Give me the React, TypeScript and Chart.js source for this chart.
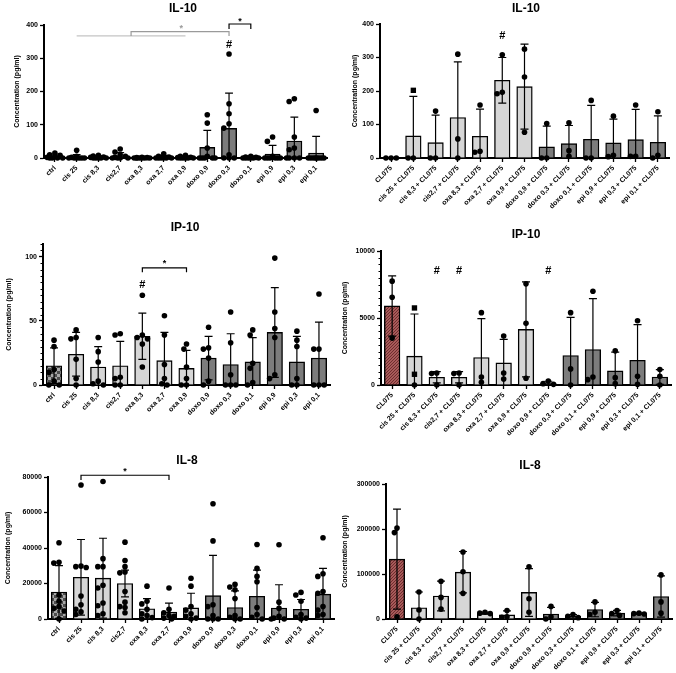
import React, { useEffect, useRef } from 'react';
import { Chart, registerables } from 'chart.js';
Chart.register(...registerables);

const FONT = '"Liberation Sans", Arial, Helvetica, sans-serif';
Chart.defaults.font.family = FONT;

// ---------- categories ----------
const LEFT_LABELS = ['ctrl', 'cis 25', 'cis 8,3', 'cis2,7', 'oxa 8,3', 'oxa 2,7', 'oxa 0,9', 'doxo 0,9', 'doxo 0,3', 'doxo 0,1', 'epi 0,9', 'epi 0,3', 'epi 0,1'];
const RIGHT_LABELS = ['CL075', 'cis 25 + CL075', 'cis 8,3 + CL075', 'cis2,7 + CL075', 'oxa 8,3 + CL075', 'oxa 2,7 + CL075', 'oxa 0,9 + CL075', 'doxo 0,9 + CL075', 'doxo 0,3 + CL075', 'doxo 0,1 + CL075', 'epi 0,9 + CL075', 'epi 0,3 + CL075', 'epi 0,1 + CL075'];
const LEFT_FILLS = ['ctrl', 'light', 'light', 'light', 'light', 'light', 'light', 'dark', 'dark', 'dark', 'dark', 'dark', 'dark'];
const RIGHT_FILLS = ['cl075', 'light', 'light', 'light', 'light', 'light', 'light', 'dark', 'dark', 'dark', 'dark', 'dark', 'dark'];

// ---------- IL-10 (left) ----------
const IL10_L_MEANS = [5, 4, 3, 6, 1, 3, 2, 32, 89, 2, 12, 51, 15];
const IL10_L_SD = [7, 6, 3, 10, 1, 5, 3, 51, 106, 3, 26, 72, 50];
const IL10_L_POINTS = [
  [15, 10, 8, 5, 2, 0, 0, 0, 0],
  [23, 5, 2, 0, 0, 0, 0, 0, 0],
  [8, 6, 3, 2, 0, 0, 0, 0, 0],
  [27, 18, 10, 5, 2, 0, 0, 0, 0],
  [2, 1, 1, 0, 0, 0, 0, 0, 0],
  [13, 5, 3, 1, 0, 0, 0, 0, 0],
  [8, 5, 2, 1, 0, 0, 0, 0, 0],
  [130, 105, 30, 5, 0, 0, 0, 0, 0],
  [313, 163, 133, 103, 90, 10, 0, 0, 0],
  [5, 3, 2, 0, 0, 0, 0, 0, 0],
  [63, 50, 5, 0, 0, 0, 0, 0, 0],
  [178, 170, 63, 30, 25, 0, 0, 0, 0],
  [143, 0, 0, 0, 0, 0, 0, 0, 0],
];
const IL10_L_TICKS = [0, 100, 200, 300, 400];

// ---------- IL-10 (right) ----------
const IL10_R_MEANS = [0, 66, 46, 121, 65, 232, 213, 33, 43, 56, 45, 55, 47];
const IL10_R_SD = [0, 118, 82, 166, 81, 68, 127, 62, 54, 101, 71, 90, 79];
const IL10_R_POINTS = [
  [0, 0, 0], [202, 0, 0], [140, 0, 0], [310, 57, 0], [158, 20, 17], [308, 196, 192], [325, 242, 77],
  [103, 0, 0], [105, 22, 5], [172, 0, 0], [125, 8, 4], [158, 5, 5], [138, 8, 0],
];
const IL10_R_SQUARES = [[1, 202]];
const IL10_R_TICKS = [0, 100, 200, 300, 400];

// ---------- IP-10 (left) ----------
const IP10_L_MEANS = [15, 24, 14, 15, 38, 19, 13, 21, 16, 18, 41, 18, 21];
const IP10_L_SD = [14, 17, 16, 19, 18, 22, 14, 17, 24, 19, 35, 20, 28];
const IP10_L_POINTS = [
  [35, 30, 12, 10, 3, 0, 0],
  [43, 37, 36, 20, 5, 0],
  [37, 26, 18, 3, 1, 0],
  [40, 39, 6, 5, 0, 0],
  [70, 39, 37, 36, 32, 14],
  [54, 39, 16, 5, 1, 0],
  [32, 28, 14, 5, 0, 0],
  [45, 29, 28, 21, 3, 0],
  [57, 33, 8, 0, 0, 0],
  [43, 39, 17, 13, 2, 0],
  [99, 57, 44, 37, 8, 5],
  [42, 35, 30, 5, 0, 0],
  [71, 28, 28, 0, 0, 0],
];
const IP10_L_TICKS = [0, 50, 100];

// ---------- IP-10 (right) ----------
const IP10_R_MEANS = [5900, 2150, 580, 580, 2050, 1650, 4150, 150, 2200, 2650, 1050, 1850, 600];
const IP10_R_SD = [2250, 3150, 420, 420, 2900, 1750, 3550, 130, 2850, 3800, 1400, 2650, 550];
const IP10_R_POINTS = [
  [7750, 6550, 3500], [5750, 800, 0], [900, 850, 0], [900, 850, 0], [5400, 600, 200], [3650, 900, 450],
  [7550, 4600, 500], [300, 100, 50], [5400, 1200, 0], [7000, 600, 400], [2550, 550, 100], [4800, 650, 50], [1150, 650, 0],
];
const IP10_R_SQUARES = [[1, 5750], [1, 800]];
const IP10_R_TICKS = [0, 5000, 10000];

// ---------- IL-8 (left) ----------
const IL8_L_MEANS = [15200, 23500, 23000, 20000, 5800, 3900, 6300, 13200, 6500, 12800, 6200, 5500, 14000];
const IL8_L_SD = [14900, 21300, 22500, 7500, 5700, 5100, 8200, 22600, 9300, 14700, 13100, 5500, 14500];
const IL8_L_POINTS = [
  [43000, 32000, 31500, 13500, 10000, 7000, 6000, 4500, 0],
  [75500, 29800, 29500, 29000, 13000, 8000, 5500, 4000, 2500],
  [77500, 34000, 29500, 29500, 19000, 17500, 9000, 7500, 3000, 2000],
  [43300, 33000, 29500, 26500, 26000, 15500, 9500, 7000, 6500, 3500],
  [18500, 10000, 8500, 5500, 3000, 2000, 800, 0],
  [17500, 5500, 3500, 2000, 1500, 500, 0],
  [23000, 18500, 7000, 5000, 3000, 1500, 500, 0],
  [64900, 44000, 8000, 7000, 2000, 0, 0, 0],
  [19500, 18000, 16500, 11500, 2000, 1000, 0, 0],
  [42000, 28500, 24000, 21000, 6500, 2500, 1000, 0],
  [41800, 9500, 6000, 1500, 500, 0, 0],
  [15000, 13500, 10000, 2500, 1000, 500, 0],
  [45800, 25500, 24000, 15500, 14500, 7000, 5000, 2500, 2000],
];
const IL8_L_TICKS = [0, 20000, 40000, 60000, 80000];

// ---------- IL-8 (right) ----------
const IL8_R_MEANS = [133000, 25000, 51000, 104000, 13000, 9000, 59000, 11000, 6000, 21000, 13000, 12000, 50000];
const IL8_R_SD = [111000, 35000, 33000, 46000, 2000, 9000, 53000, 15000, 4000, 16000, 6000, 1500, 46000];
const IL8_R_POINTS = [
  [202000, 192000, 5000], [60000, 20000, 0], [84000, 48000, 22000], [149000, 105000, 57000], [15000, 13000, 12000],
  [19000, 5000, 4000], [116000, 45000, 15000], [28000, 5000, 0], [10000, 6000, 3000], [38000, 15000, 10000],
  [19000, 12000, 8000], [13000, 12000, 11000], [98000, 38000, 13000],
];
const IL8_R_TICKS = [0, 100000, 200000, 300000];

// ---------- significance marks (data units: category index, value) ----------
type Mark =
  | { kind: 'line'; color: string; pts: number[][] }
  | { kind: 'text'; text: string; color: string; x: number; y: number; size: number };

const IL10_L_MARKS: Mark[] = [
  { kind: 'line', color: '#c4c4c4', pts: [[1, 367], [6, 367]] },
  { kind: 'line', color: '#9a9a9a', pts: [[3.5, 367], [3.5, 380], [8, 380], [8, 367]] },
  { kind: 'text', text: '*', color: '#9a9a9a', x: 5.8, y: 388, size: 9 },
  { kind: 'line', color: '#000', pts: [[8, 388], [8, 403], [9, 403], [9, 388]] },
  { kind: 'text', text: '*', color: '#000', x: 8.5, y: 411, size: 9 },
  { kind: 'text', text: '#', color: '#000', x: 8, y: 340, size: 11 },
];
const IL10_R_MARKS: Mark[] = [{ kind: 'text', text: '#', color: '#000', x: 5, y: 364, size: 11 }];
const IP10_L_MARKS: Mark[] = [
  { kind: 'line', color: '#000', pts: [[4, 88], [4, 91.4], [6, 91.4], [6, 88]] },
  { kind: 'text', text: '*', color: '#000', x: 5, y: 95, size: 9 },
  { kind: 'text', text: '#', color: '#000', x: 4, y: 78, size: 11 },
];
const IP10_R_MARKS: Mark[] = [
  { kind: 'text', text: '#', color: '#000', x: 2, y: 8480, size: 11 },
  { kind: 'text', text: '#', color: '#000', x: 3, y: 8480, size: 11 },
  { kind: 'text', text: '#', color: '#000', x: 7, y: 8480, size: 11 },
];
const IL8_L_MARKS: Mark[] = [
  { kind: 'line', color: '#000', pts: [[1, 78300], [1, 81000], [5, 81000], [5, 78300]] },
  { kind: 'text', text: '*', color: '#000', x: 3, y: 83200, size: 9 },
];
const IL8_R_MARKS: Mark[] = [];

interface PanelCfg {
  left: number; top: number; width: number; height: number;
  area: { l: number; r: number; t: number; b: number };
  title: string; titleX: number; titleY: number; yTitleX: number;
  labels: string[]; fills: string[]; means: number[]; sd: number[]; points: number[][]; squares: number[][];
  yMax: number; yTicks: number[]; minorStep: number; marks: Mark[];
}

const PANELS: PanelCfg[] = [
  { left: 0, top: 0, width: 338, height: 225, area: { l: 44, r: 327, t: 25, b: 158 }, title: 'IL-10', titleX: 183, titleY: 9, yTitleX: 17,
    labels: LEFT_LABELS, fills: LEFT_FILLS, means: IL10_L_MEANS, sd: IL10_L_SD, points: IL10_L_POINTS, squares: [],
    yMax: 400, yTicks: IL10_L_TICKS, minorStep: 0, marks: IL10_L_MARKS },
  { left: 338, top: 0, width: 338, height: 225, area: { l: 42, r: 331, t: 24, b: 158 }, title: 'IL-10', titleX: 188, titleY: 9, yTitleX: 17,
    labels: RIGHT_LABELS, fills: RIGHT_FILLS, means: IL10_R_MEANS, sd: IL10_R_SD, points: IL10_R_POINTS, squares: IL10_R_SQUARES,
    yMax: 400, yTicks: IL10_R_TICKS, minorStep: 0, marks: IL10_R_MARKS },
  { left: 0, top: 215, width: 338, height: 233, area: { l: 43, r: 330, t: 29, b: 170 }, title: 'IP-10', titleX: 185, titleY: 13, yTitleX: 9,
    labels: LEFT_LABELS, fills: LEFT_FILLS, means: IP10_L_MEANS, sd: IP10_L_SD, points: IP10_L_POINTS, squares: [],
    yMax: 110, yTicks: IP10_L_TICKS, minorStep: 5, marks: IP10_L_MARKS },
  { left: 338, top: 225, width: 338, height: 223, area: { l: 43, r: 333, t: 26, b: 160 }, title: 'IP-10', titleX: 188, titleY: 10, yTitleX: 7,
    labels: RIGHT_LABELS, fills: RIGHT_FILLS, means: IP10_R_MEANS, sd: IP10_R_SD, points: IP10_R_POINTS, squares: IP10_R_SQUARES,
    yMax: 10000, yTicks: IP10_R_TICKS, minorStep: 500, marks: IP10_R_MARKS },
  { left: 0, top: 448, width: 338, height: 225, area: { l: 48, r: 335, t: 29, b: 171 }, title: 'IL-8', titleX: 187, titleY: 13, yTitleX: 8,
    labels: LEFT_LABELS, fills: LEFT_FILLS, means: IL8_L_MEANS, sd: IL8_L_SD, points: IL8_L_POINTS, squares: [],
    yMax: 80000, yTicks: IL8_L_TICKS, minorStep: 0, marks: IL8_L_MARKS },
  { left: 338, top: 448, width: 338, height: 225, area: { l: 48, r: 334, t: 36, b: 171 }, title: 'IL-8', titleX: 192, titleY: 18, yTitleX: 7,
    labels: RIGHT_LABELS, fills: RIGHT_FILLS, means: IL8_R_MEANS, sd: IL8_R_SD, points: IL8_R_POINTS, squares: [],
    yMax: 300000, yTicks: IL8_R_TICKS, minorStep: 0, marks: IL8_R_MARKS },
];

function makePattern(kind: string): CanvasPattern | string {
  if (kind === 'light') return '#d6d6d6';
  if (kind === 'dark') return '#7c7c7c';
  const c = document.createElement('canvas');
  const g = c.getContext('2d')!;
  if (kind === 'ctrl') {
    c.width = 6; c.height = 6;
    g.fillStyle = '#4e4e4e'; g.fillRect(0, 0, 6, 6);
    g.fillStyle = '#a8a8a8'; g.fillRect(0, 0, 3, 3); g.fillRect(3, 3, 3, 3);
  } else {
    c.width = 3; c.height = 3;
    g.fillStyle = '#a85a5a'; g.fillRect(0, 0, 3, 3);
    g.fillStyle = '#6e2e2e'; g.fillRect(0, 0, 1, 1); g.fillRect(2, 1, 1, 1); g.fillRect(1, 2, 1, 1);
  }
  return g.createPattern(c, 'repeat')!;
}

function swarm(vals: number[], max: number, plotH: number, catW: number): number[] {
  const R = 2.8, step = 2.6, minD = 2 * R * 0.92;
  const order = vals.map((_, i) => i).sort((a, b) => vals[b] - vals[a]);
  const placed: { x: number; y: number }[] = [];
  const res = new Array(vals.length).fill(0);
  const cands = [0, -1, 1, -2, 2, -3, 3];
  const maxK = Math.floor((catW * 0.42) / step);
  for (const idx of order) {
    const y = (vals[idx] / max) * plotH;
    let best = 0, bestD = -1;
    for (const k of cands) {
      if (Math.abs(k) > maxK) continue;
      const x = k * step;
      let d = Infinity;
      for (const p of placed) d = Math.min(d, Math.hypot(p.x - x, p.y - y));
      if (d >= minD) { best = x; bestD = d; break; }
      if (d > bestD) { bestD = d; best = x; }
    }
    placed.push({ x: best, y });
    res[idx] = best / catW;
  }
  return res;
}

function Panel({ cfg }: { cfg: PanelCfg }) {
  const ref = useRef<HTMLCanvasElement>(null);
  useEffect(() => {
    const canvas = ref.current!;
    const n = cfg.labels.length;
    const plotH = cfg.area.b - cfg.area.t;
    const catW = (cfg.area.r - cfg.area.l) / n;
    const scatter: { x: number; y: number }[] = [];
    const styles: string[] = [];
    const radii: number[] = [];
    cfg.points.forEach((vals, i) => {
      const offs = swarm(vals, cfg.yMax, plotH, catW);
      const sq = cfg.squares.filter((s) => s[0] === i).map((s) => s[1]);
      vals.forEach((v, j) => {
        scatter.push({ x: i + offs[j], y: v });
        const k = sq.indexOf(v);
        if (k >= 0) { sq.splice(k, 1); styles.push('rect'); radii.push(3.8); }
        else { styles.push('circle'); radii.push(2.8); }
      });
    });
    const fills = cfg.fills.map(makePattern);

    const extras = {
      id: 'extras',
      afterDatasetsDraw(chart: any) {
        const ctx: CanvasRenderingContext2D = chart.ctx;
        const xs = chart.scales.x, ys = chart.scales.y;
        const yBottom = ys.getPixelForValue(0);
        ctx.save();
        // error bars
        ctx.strokeStyle = '#000';
        ctx.lineWidth = 1.2;
        const cap = catW * 0.36;
        cfg.means.forEach((m, i) => {
          const s = cfg.sd[i];
          if (!s) return;
          const x = xs.getPixelForValue(i);
          const yu = ys.getPixelForValue(m + s);
          const lo = m - s;
          const yl = lo > 0 ? ys.getPixelForValue(lo) : yBottom;
          ctx.beginPath();
          ctx.moveTo(x, yu); ctx.lineTo(x, yl);
          ctx.moveTo(x - cap / 2, yu); ctx.lineTo(x + cap / 2, yu);
          if (lo > 0) { ctx.moveTo(x - cap / 2, yl); ctx.lineTo(x + cap / 2, yl); }
          ctx.stroke();
        });
        // minor ticks
        if (cfg.minorStep) {
          ctx.lineWidth = 1;
          ctx.beginPath();
          for (let v = 0; v <= cfg.yMax + 1e-9; v += cfg.minorStep) {
            if (cfg.yTicks.includes(v)) continue;
            const y = Math.round(ys.getPixelForValue(v)) + 0.5;
            ctx.moveTo(cfg.area.l - 2.5, y); ctx.lineTo(cfg.area.l, y);
          }
          ctx.stroke();
        }
        // marks
        for (const mk of cfg.marks) {
          if (mk.kind === 'line') {
            ctx.strokeStyle = mk.color; ctx.lineWidth = 1.2;
            ctx.beginPath();
            mk.pts.forEach((p, k) => {
              const px = xs.getPixelForValue(p[0]);
              const py = ys.getPixelForValue(p[1]);
              if (k === 0) ctx.moveTo(px, py); else ctx.lineTo(px, py);
            });
            ctx.stroke();
          } else {
            ctx.fillStyle = mk.color;
            ctx.font = `bold ${mk.size}px ${FONT}`;
            ctx.textAlign = 'center'; ctx.textBaseline = 'middle';
            ctx.fillText(mk.text, xs.getPixelForValue(mk.x), ys.getPixelForValue(mk.y));
          }
        }
        // titles
        ctx.fillStyle = '#000';
        ctx.font = `bold 12px ${FONT}`;
        ctx.textAlign = 'center'; ctx.textBaseline = 'middle';
        ctx.fillText(cfg.title, cfg.titleX, cfg.titleY);
        ctx.translate(cfg.yTitleX, (cfg.area.t + cfg.area.b) / 2);
        ctx.rotate(-Math.PI / 2);
        ctx.font = `bold 7px ${FONT}`;
        ctx.fillText('Concentration (pg/ml)', 0, 0);
        ctx.restore();
      },
    };

    const chart = new Chart(canvas, {
      type: 'bar',
      data: {
        labels: cfg.labels,
        datasets: [
          {
            type: 'bar', data: cfg.means, backgroundColor: fills as any, borderColor: '#000', borderWidth: 1.4,
            grouped: false, barThickness: catW * 0.7, xAxisID: 'x', yAxisID: 'y', order: 2,
          } as any,
          {
            type: 'scatter', data: scatter, xAxisID: 'x2', yAxisID: 'y', order: 1, clip: false,
            pointStyle: styles, pointRadius: radii, backgroundColor: '#000', borderColor: '#000', borderWidth: 0,
          } as any,
        ],
      },
      options: {
        animation: false,
        responsive: false,
        devicePixelRatio: 1,
        layout: { padding: { left: 0, right: cfg.width - cfg.area.r, top: cfg.area.t, bottom: 0 } },
        plugins: { legend: { display: false }, tooltip: { enabled: false }, title: { display: false } },
        scales: {
          x: {
            type: 'category', offset: true,
            grid: { display: true, drawOnChartArea: false, offset: false, drawTicks: true, tickLength: 4, tickColor: '#000', tickWidth: 1.3 },
            border: { display: true, color: '#000', width: 2 },
            ticks: { autoSkip: false, minRotation: 45, maxRotation: 45, color: '#000', padding: 2, font: { size: 7, weight: 'bold' } },
            afterFit: (s: any) => { s.height = cfg.height - cfg.area.b; },
          },
          x2: { type: 'linear', display: false, offset: false, grid: { offset: false }, min: -0.5, max: n - 0.5 },
          y: {
            type: 'linear', min: 0, max: cfg.yMax,
            grid: { display: true, drawOnChartArea: false, drawTicks: true, tickLength: 4, tickColor: '#000', tickWidth: 1.3 },
            border: { display: true, color: '#000', width: 2 },
            ticks: { color: '#000', padding: 2, font: { size: 7, weight: 'bold' }, callback: (v: any) => String(v) },
            afterBuildTicks: (s: any) => { s.ticks = cfg.yTicks.map((v) => ({ value: v })); },
            afterFit: (s: any) => { s.width = cfg.area.l; },
          },
        },
      } as any,
      plugins: [extras as any],
    });
    return () => chart.destroy();
  }, [cfg]);
  return (
    <canvas
      ref={ref}
      width={cfg.width}
      height={cfg.height}
      style={{ position: 'absolute', left: cfg.left, top: cfg.top, width: cfg.width, height: cfg.height }}
    />
  );
}

export default function App() {
  return (
    <div style={{ position: 'absolute', left: 0, top: 0, width: 676, height: 673, background: '#fff', overflow: 'hidden' }}>
      {PANELS.map((p, i) => (
        <Panel key={i} cfg={p} />
      ))}
    </div>
  );
}
